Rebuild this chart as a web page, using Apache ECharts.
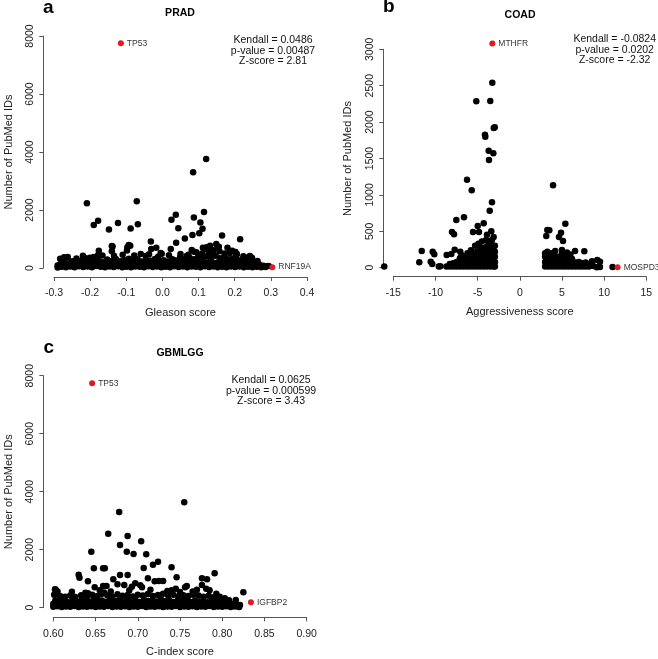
<!DOCTYPE html>
<html>
<head>
<meta charset="utf-8">
<script src="https://cdn.jsdelivr.net/npm/echarts@6/dist/echarts.min.js"></script>
<style>
  html, body { margin: 0; padding: 0; background: #fff; }
  #chart { width: 658px; height: 659px; }
</style>
</head>
<body>
<div id="chart"></div>
<script>
// ---- panel a : PRAD ----
// dense band near zero
var pradBand = [
  [-0.290,20],[-0.279,40],[-0.267,25],[-0.255,55],[-0.243,30],[-0.231,60],[-0.219,35],[-0.207,50],[-0.195,25],[-0.183,65],
  [-0.171,40],[-0.159,30],[-0.147,55],[-0.135,35],[-0.123,60],[-0.111,30],[-0.099,45],[-0.087,25],[-0.075,55],[-0.063,40],
  [-0.051,30],[-0.039,60],[-0.027,35],[-0.015,50],[-0.003,25],[0.009,45],[0.021,30],[0.033,60],[0.045,35],[0.057,50],
  [0.069,25],[0.081,55],[0.093,40],[0.105,30],[0.117,60],[0.129,35],[0.141,50],[0.153,25],[0.165,45],[0.177,30],
  [0.189,55],[0.201,35],[0.213,50],[0.225,25],[0.237,40],[0.249,30],[0.261,45],[0.273,25],[0.285,35],
  [-0.284,80],[-0.273,95],[-0.261,85],[-0.249,100],[-0.237,80],[-0.225,95],[-0.213,85],[-0.201,100],[-0.189,80],[-0.177,95],
  [-0.165,85],[-0.153,100],[-0.141,80],[-0.129,95],[-0.117,85],[-0.105,100],[-0.093,80],[-0.081,95],[-0.069,85],[-0.057,100],
  [-0.045,80],[-0.033,95],[-0.021,85],[-0.009,100],[0.003,80],[0.015,95],[0.027,85],[0.039,100],[0.051,80],[0.063,95],
  [0.075,85],[0.087,100],[0.099,80],[0.111,95],[0.123,85],[0.135,100],[0.147,80],[0.159,95],[0.171,85],[0.183,100],
  [0.195,80],[0.207,95],[0.219,85],[0.231,100],[0.243,80],[0.255,95],[0.267,70],[0.279,50],
  [-0.290,90],[-0.279,120],[-0.267,140],[-0.255,150],[-0.243,130],[-0.231,160],[-0.219,140],[-0.207,170],[-0.195,150],[-0.183,160],
  [-0.171,140],[-0.159,170],[-0.147,150],[-0.135,160],[-0.123,140],[-0.111,170],[-0.099,150],[-0.087,160],[-0.075,140],[-0.063,170],
  [-0.051,150],[-0.039,160],[-0.027,140],[-0.015,170],[-0.003,150],[0.009,160],[0.021,140],[0.033,170],[0.045,150],[0.057,180],
  [0.069,160],[0.081,190],[0.093,170],[0.105,200],[0.117,180],[0.129,200],[0.141,180],[0.153,190],[0.165,170],[0.177,180],
  [0.189,160],[0.201,170],[0.213,150],[0.225,140],[0.237,130],[0.249,120],[0.261,110],[0.273,80],[0.285,60],
  [-0.284,120],[-0.273,190],[-0.261,160],[-0.249,230],[-0.237,180],[-0.225,250],[-0.213,210],[-0.201,280],[-0.189,220],[-0.177,260],
  [-0.165,200],[-0.153,290],[-0.141,240],[-0.129,310],[-0.117,230],[-0.105,270],[-0.093,320],[-0.081,240],[-0.069,300],[-0.057,220],
  [-0.045,280],[-0.033,250],[-0.021,310],[-0.009,230],[0.003,270],[0.015,220],[0.027,300],[0.039,260],[0.051,330],[0.063,280],
  [0.075,350],[0.087,300],[0.099,380],[0.111,330],[0.123,400],[0.135,360],[0.147,420],[0.159,340],[0.171,380],[0.183,300],
  [0.195,330],[0.207,260],[0.219,280],[0.231,210],[0.243,230],[0.255,160],[0.267,130],[0.279,80],
  [-0.262,380],[-0.238,330],[-0.220,420],[-0.190,380],[-0.166,430],[-0.134,420],[-0.110,460],[-0.078,430],[-0.046,410],[-0.012,390],
  [0.018,440],[0.050,480],[0.072,460],[0.094,540],[0.110,500],[0.128,560],[0.140,520],[0.158,580],[0.172,500],[0.186,520],
  [0.204,430],[0.226,380],[0.238,330]
];
var pradMid = [
  [-0.272,370],[-0.212,335],[-0.200,356],[-0.283,320],[-0.176,597],[-0.178,450],[-0.140,759],[-0.140,575],[-0.138,740],[-0.097,714],
  [-0.093,793],[-0.098,600],[-0.089,770],[-0.060,480],[-0.037,471],[-0.031,655],[-0.017,700],[-0.005,517],[-0.002,494],[0.023,655],
  [0.030,276],[0.049,369],[0.067,414],[0.081,621],[0.088,562],[0.112,700],[0.115,655],[0.122,714],[0.132,770],[0.142,621],
  [0.149,828],[0.156,734],[0.180,700],[0.193,597],[0.202,552],[0.206,483],[0.220,276],[0.224,402],[0.240,276],[0.242,414],
  [0.244,379],[0.248,345],[0.260,184],[0.263,241],[0.294,69]
];
var pradTop = [
  [-0.209,2230],[-0.071,2300],[-0.190,1480],[-0.178,1630],[-0.148,1330],[-0.123,1550],[-0.088,1365],[-0.068,1510],
  [0.121,3760],[0.085,3300],[0.025,1660],[0.037,1840],[0.044,1370],[0.087,1740],[0.115,1930],[0.105,1570],[0.111,1350],
  [0.102,1200],[0.083,1140],[0.062,1020],[0.165,1120],[0.215,990],[-0.032,915],[0.038,870]
];
var pradHits = [[-0.115,7750],[0.304,30]];
var pradHitNames = ['TP53','RNF19A'];
var pradStats = ['Kendall = 0.0486','p-value = 0.00487','Z-score = 2.81'];

// ---- panel b : COAD ----
var coadBand = [
  [-8.7,15],[-8.3,15],[-8.3,50],[-7.9,15],[-7.9,60],[-7.5,15],[-7.5,80],[-7.1,15],[-7.1,80],[-7.1,130],
  [-6.7,15],[-6.7,80],[-6.7,140],[-6.3,15],[-6.3,80],[-6.3,150],[-5.9,15],[-5.9,80],[-5.9,150],
  [-5.5,15],[-5.5,80],[-5.5,150],[-5.5,200],[-5.1,15],[-5.1,80],[-5.1,150],[-5.1,220],
  [-4.7,15],[-4.7,80],[-4.7,150],[-4.7,220],[-4.7,280],[-4.3,15],[-4.3,80],[-4.3,150],[-4.3,220],[-4.3,270],
  [-3.9,15],[-3.9,80],[-3.9,150],[-3.9,220],[-3.9,290],[-3.5,15],[-3.5,80],[-3.5,150],[-3.5,220],[-3.5,290],[-3.5,350],
  [-3.1,15],[-3.1,80],[-3.1,150],[-3.1,220],[-3.1,290],[-2.95,15],[-2.95,80],[-2.95,150],[-2.95,220],[-2.95,300],
  [3.0,15],[3.0,80],[3.0,150],[3.0,200],[3.4,15],[3.4,80],[3.4,150],[3.8,15],[3.8,80],[3.8,150],[3.8,200],
  [4.2,15],[4.2,80],[4.2,150],[4.6,15],[4.6,80],[4.6,150],[5.0,15],[5.0,80],[5.0,150],[5.0,190],
  [5.4,15],[5.4,80],[5.4,140],[5.8,15],[5.8,80],[5.8,130],[6.2,15],[6.2,80],[6.2,120],[6.6,15],[6.6,70],
  [7.0,15],[7.0,80],[7.4,15],[7.4,60],[7.8,15],[7.8,70],[8.2,15],[8.2,40]
];
var coadMid = [
  [-16.07,15],[-11.92,74],[-11.63,229],[-10.56,82],[-10.38,51],[-10.33,220],[-10.14,184],[-9.43,20],[-9.6,15],[-8.67,174],
  [-8.12,188],[-7.72,247],[-7.06,220],[-6.9,170],[-6.2,200],[-5.8,240],[-5.3,300],[-4.9,330],[-4.5,360],[-4.0,380],
  [-3.7,350],[-3.3,380],[-3.1,420],[-3.89,453],[-3.38,500],[-3.57,783],[-3.30,898],[-8.04,490],[-7.80,459],[-7.53,655],
  [-6.62,692],[-5.55,490],[-4.99,573],[-4.84,490],[-4.28,610],
  [3.26,220],[5.0,243],[6.55,229],[7.65,225],[8.56,88],[9.19,106],[9.51,82],[8.72,23],[9.12,5],[9.5,10],[11.0,10],
  [3.26,518],[3.50,514],[3.14,435],[4.89,481],[4.65,422],[5.12,367],[5.40,605],[4.2,230],[5.6,210],[6.0,180],[3.94,1132]
];
var coadTop = [
  [-6.26,1209],[-5.70,1063],[-5.16,2285],[-4.13,1827],[-4.09,1800],[-3.69,1607],[-3.65,1480],[-3.50,2290],
  [-3.26,2541],[-3.09,1919],[-2.97,1929],[-3.14,1572]
];
var coadHits = [[-3.26,3080],[11.6,5]];
var coadHitNames = ['MTHFR','MOSPD3'];
var coadStats = ['Kendall = -0.0824','p-value = 0.0202','Z-score = -2.32'];

// ---- panel c : GBMLGG ----
var gbmBand = [
  [0.600,30],[0.605,50],[0.610,25],[0.615,45],[0.620,30],[0.625,55],[0.630,25],[0.635,40],[0.640,30],[0.645,50],
  [0.650,25],[0.655,45],[0.660,30],[0.665,55],[0.670,25],[0.675,40],[0.680,30],[0.685,50],[0.690,25],[0.695,45],
  [0.700,30],[0.705,55],[0.710,25],[0.715,40],[0.720,30],[0.725,50],[0.730,25],[0.735,45],[0.740,30],[0.745,55],
  [0.750,25],[0.755,40],[0.760,30],[0.765,50],[0.770,25],[0.775,45],[0.780,30],[0.785,55],[0.790,25],[0.795,40],
  [0.800,30],[0.805,50],[0.810,25],[0.815,40],[0.820,20],
  [0.6025,85],[0.6075,90],[0.6125,80],[0.6175,95],[0.6225,85],[0.6275,90],[0.6325,80],[0.6375,95],[0.6425,85],[0.6475,90],
  [0.6525,80],[0.6575,95],[0.6625,85],[0.6675,90],[0.6725,80],[0.6775,95],[0.6825,85],[0.6875,90],[0.6925,80],[0.6975,95],
  [0.7025,85],[0.7075,90],[0.7125,80],[0.7175,95],[0.7225,85],[0.7275,90],[0.7325,80],[0.7375,95],[0.7425,85],[0.7475,90],
  [0.7525,80],[0.7575,95],[0.7625,85],[0.7675,90],[0.7725,80],[0.7775,95],[0.7825,85],[0.7875,90],[0.7925,80],[0.7975,85],
  [0.8025,80],[0.8075,75],[0.8125,70],[0.8175,60],
  [0.600,140],[0.605,120],[0.610,150],[0.615,130],[0.620,145],[0.625,120],[0.630,150],[0.635,130],[0.640,140],[0.645,120],
  [0.650,150],[0.655,130],[0.660,145],[0.665,120],[0.670,150],[0.675,130],[0.680,140],[0.685,120],[0.690,150],[0.695,130],
  [0.700,145],[0.705,120],[0.710,150],[0.715,130],[0.720,140],[0.725,120],[0.730,150],[0.735,130],[0.740,145],[0.745,120],
  [0.750,150],[0.755,130],[0.760,140],[0.765,120],[0.770,150],[0.775,130],[0.780,140],[0.785,120],[0.790,130],[0.795,120],
  [0.800,110],[0.805,120],[0.810,90],[0.815,80],[0.820,60],
  [0.6025,260],[0.6075,210],[0.6125,240],[0.6175,190],[0.6225,250],[0.6275,200],[0.6325,230],[0.6375,260],[0.6425,200],[0.6475,270],
  [0.6525,220],[0.6575,250],[0.6625,200],[0.6675,270],[0.6725,230],[0.6775,260],[0.6825,210],[0.6875,280],[0.6925,220],[0.6975,250],
  [0.7025,200],[0.7075,270],[0.7125,230],[0.7175,250],[0.7225,210],[0.7275,280],[0.7325,220],[0.7375,250],[0.7425,200],[0.7475,260],
  [0.7525,230],[0.7575,250],[0.7625,200],[0.7675,240],[0.7725,210],[0.7775,230],[0.7825,190],[0.7875,220],[0.7925,180],[0.7975,200],
  [0.8025,160],[0.8075,170],[0.8125,130],[0.8175,100],
  [0.601,450],[0.603,620],[0.605,560],[0.608,400],[0.614,380],[0.620,420],[0.626,370],[0.633,430],[0.640,390],[0.646,450],
  [0.652,400],[0.657,470],[0.664,420],[0.670,380],[0.676,460],[0.682,410],[0.688,440],[0.694,390],[0.700,450],[0.706,420],
  [0.712,470],[0.718,400],[0.724,440],[0.730,480],[0.736,420],[0.742,450],[0.748,390],[0.754,430],[0.760,400],[0.766,450],
  [0.772,420],[0.778,380],[0.784,410],[0.790,360],[0.796,330],[0.802,300],[0.808,260]
];
var gbmMid = [
  [0.602,634],[0.603,552],[0.638,517],[0.641,496],[0.649,703],[0.659,748],[0.663,748],[0.676,807],[0.684,783],[0.693,724],
  [0.703,772],[0.705,703],[0.720,910],[0.725,920],[0.730,920],[0.776,783],[0.758,748],[0.756,703],[0.781,655],[0.793,483],
  [0.797,379],[0.803,324],[0.816,265],[0.821,93],[0.825,531],[0.622,550],[0.655,600],[0.668,560],[0.690,600],[0.715,620],
  [0.735,580],[0.745,650],[0.765,560],[0.770,620],[0.785,600],[0.660,520],[0.697,840],[0.740,600],[0.750,540]
];
var gbmTop = [
  [0.712,1014],[0.776,1014],[0.782,979],[0.791,1186],[0.746,1048],[0.740,1393],[0.671,979],[0.679,1128],[0.688,1128],[0.641,910],
  [0.630,1138],[0.631,1034],[0.648,1359],[0.659,1359],[0.661,1359],[0.707,1369],[0.724,1586],[0.718,1483],[0.645,1931],[0.687,1931],
  [0.695,1851],[0.710,1841],[0.679,2162],[0.704,2290],[0.688,2472],[0.665,2552],[0.678,3300],[0.755,3640]
];
var gbmHits = [[0.646,7740],[0.834,190]];
var gbmHitNames = ['TP53','IGFBP2'];
var gbmStats = ['Kendall = 0.0625','p-value = 0.000599','Z-score = 3.43'];

var FONT = 'Liberation Sans, Arial, Helvetica, sans-serif';
var AXIS_COLOR = '#555';

function xAxisOf(gi, min, max, step, digits, name, offset, gap) {
  return {
    type: 'value', gridIndex: gi, min: min, max: max, interval: step, offset: offset,
    name: name, nameLocation: 'middle', nameGap: gap,
    nameTextStyle: { fontFamily: FONT, fontSize: 11, color: '#222' },
    axisLine: { show: true, onZero: false, lineStyle: { color: AXIS_COLOR, width: 1 } },
    axisTick: { show: true, length: 4, lineStyle: { color: AXIS_COLOR } },
    axisLabel: { fontFamily: FONT, fontSize: 10.5, color: '#222', margin: 11,
      formatter: function (v) { return (+v).toFixed(digits); } },
    splitLine: { show: false }
  };
}

function yAxisOf(gi, max, step, offset, gap) {
  return {
    type: 'value', gridIndex: gi, min: 0, max: max, interval: step, offset: offset,
    name: 'Number of PubMed IDs', nameLocation: 'middle', nameGap: gap, nameRotate: 90,
    nameTextStyle: { fontFamily: FONT, fontSize: 11, color: '#222' },
    axisLine: { show: true, onZero: false, lineStyle: { color: AXIS_COLOR, width: 1 } },
    axisTick: { show: true, length: 4, lineStyle: { color: AXIS_COLOR } },
    axisLabel: { fontFamily: FONT, fontSize: 10.5, color: '#222', margin: 8, rotate: 90,
      formatter: function (v) { return String(v); } },
    splitLine: { show: false }
  };
}

function blackSeries(gi, data) {
  return { type: 'scatter', xAxisIndex: gi, yAxisIndex: gi, data: data, clip: false,
    symbolSize: 6.5, silent: true, animation: false,
    itemStyle: { color: '#000', opacity: 1, borderWidth: 0, borderColor: '#000' } };
}

function redSeries(gi, pts, names) {
  var data = pts.map(function (p, i) { return { value: p, name: names[i] }; });
  return { type: 'scatter', xAxisIndex: gi, yAxisIndex: gi, data: data, clip: false, z: 5,
    symbolSize: 6, silent: true, animation: false,
    itemStyle: { color: '#e3191c', opacity: 1, borderWidth: 0 },
    label: { show: true, position: 'right', distance: 3, formatter: '{b}',
      fontFamily: FONT, fontSize: 8.5, color: '#333' } };
}

function txt(x, y, s, size, bold, align) {
  return { type: 'text', x: x, y: y, style: { text: s, fontFamily: FONT, fontSize: size,
    fontWeight: bold ? 'bold' : 'normal', fill: '#000', align: align || 'center', verticalAlign: 'middle' } };
}

function statsText(cx, top, lines) {
  return { type: 'text', x: cx, y: top, style: { text: lines.join('\n'), fontFamily: FONT, fontSize: 10.5,
    lineHeight: 10.8, fill: '#111', align: 'center', verticalAlign: 'top' } };
}

var chart = echarts.init(document.getElementById('chart'));
chart.setOption({
  backgroundColor: '#fff',
  animation: false,
  grid: [
    { left: 54, top: 36, width: 253, height: 232 },
    { left: 393.3, top: 49.3, width: 253, height: 218.4 },
    { left: 53.3, top: 375.7, width: 253.4, height: 232 }
  ],
  xAxis: [
    xAxisOf(0, -0.3, 0.4, 0.1, 1, 'Gleason score', 9, 30),
    xAxisOf(1, -15, 15, 5, 0, 'Aggressiveness score', 9, 30),
    xAxisOf(2, 0.6, 0.9, 0.05, 2, 'C-index score', 9.6, 29)
  ],
  yAxis: [
    yAxisOf(0, 8000, 2000, 10.7, 29),
    yAxisOf(1, 3000, 500, 10, 30),
    yAxisOf(2, 8000, 2000, 10, 29)
  ],
  series: [
    blackSeries(0, pradBand.concat(pradMid, pradTop)),
    redSeries(0, pradHits, pradHitNames),
    blackSeries(1, coadBand.concat(coadMid, coadTop)),
    redSeries(1, coadHits, coadHitNames),
    blackSeries(2, gbmBand.concat(gbmMid, gbmTop)),
    redSeries(2, gbmHits, gbmHitNames)
  ],
  graphic: [
    txt(43, 7.5, 'a', 19, true, 'left'),
    txt(383, 6.5, 'b', 19, true, 'left'),
    txt(43.5, 347.5, 'c', 19, true, 'left'),
    txt(180, 13.5, 'PRAD', 10.5, true),
    txt(520, 15, 'COAD', 10.5, true),
    txt(180, 353, 'GBMLGG', 10.5, true),
    statsText(273, 34.5, pradStats),
    statsText(614.7, 33.5, coadStats),
    statsText(271, 374.5, gbmStats)
  ]
});
</script>
</body>
</html>
